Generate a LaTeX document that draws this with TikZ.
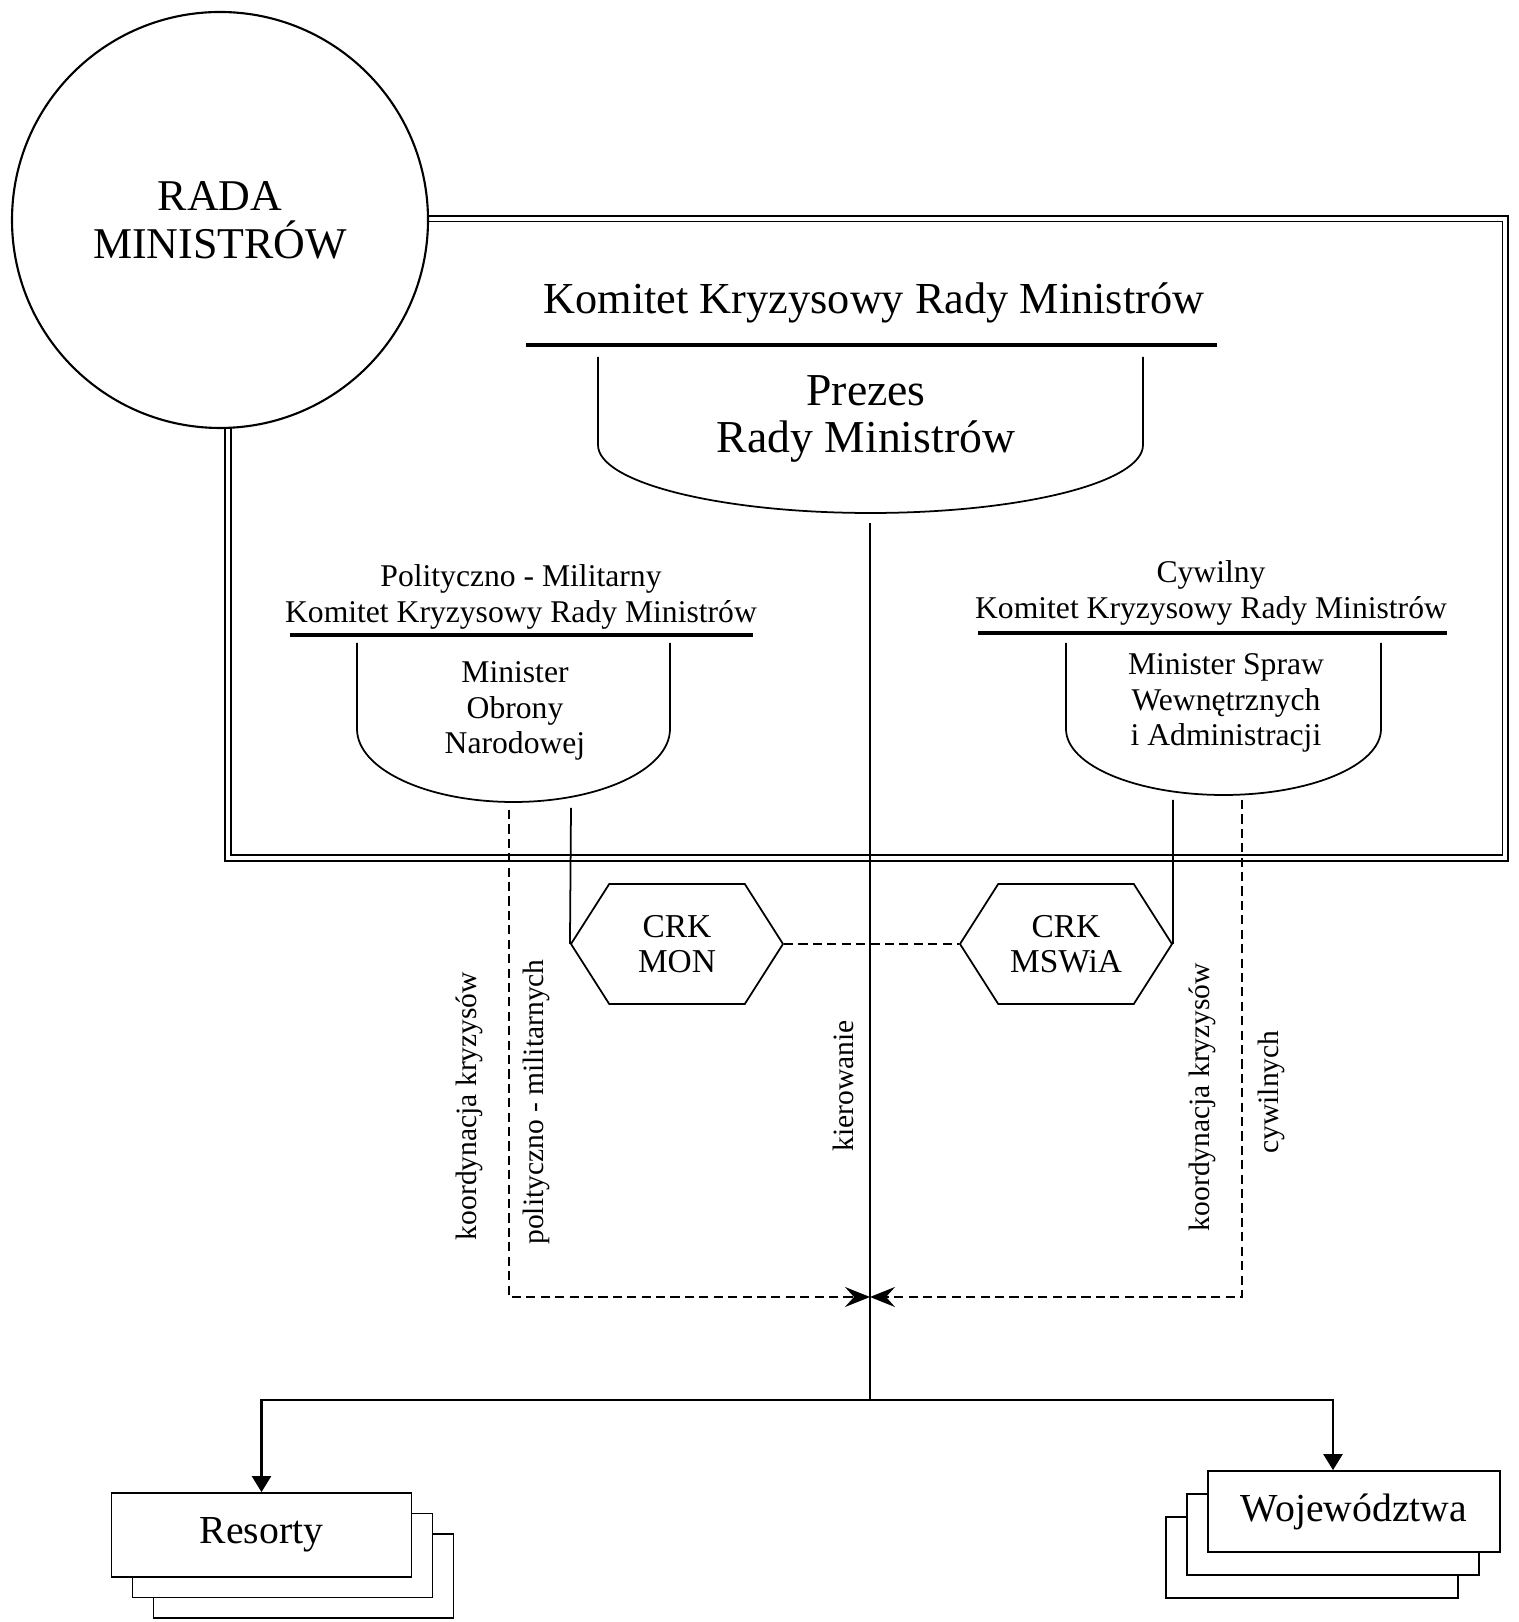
\documentclass[tikz,border=0pt]{standalone}
\usepackage{fontspec}
\setmainfont{Liberation Serif}
\usetikzlibrary{arrows.meta,shapes.symbols}
\tikzset{>=Stealth}
\tikzset{
  rule/.style = {line width=0.9pt},
  dashlink/.style = {dash pattern=on 2.6pt off 1.5pt},
  meet/.style = {-{Stealth[length=2.5mm,width=2mm,inset=0.9mm]}},
  drop/.style = {-{Triangle[length=1.6mm,width=1.9mm]}},
  hexa/.style = {draw, signal, signal to=east and west, signal pointer angle=115,
    minimum width=2.12cm, minimum height=1.2cm, inner sep=0pt, align=center,
    font=\fontsize{9.5}{10}\selectfont},
  sheet/.style = {draw, fill=white, inner sep=0pt, font=\fontsize{11.3}{13}\selectfont},
  resbox/.style = {sheet, minimum width=3cm, minimum height=0.84cm},
  wojbox/.style = {sheet, minimum width=2.92cm, minimum height=0.81cm},
  vlabel/.style = {rotate=90, font=\fontsize{8.4}{10}\selectfont}
}
% sides at #1 and #2, from #3 down to #4, elliptic bottom at #5
\newcommand{\bowl}[5]{%
  \draw (#1,#3) -- (#1,#4)
    arc[start angle=180, end angle=360, x radius={(#2-#1)/2}, y radius={#4-#5}]
    -- (#2,#3);
}

\begin{document}
\begin{tikzpicture}[line width=0.5pt]
  \useasboundingbox (0,0) rectangle (15.19,16.22);

  % frame of the crisis committee, partly under the circle
  \draw[double, double distance=0.9pt, line width=0.55pt] (2.28,7.64) rectangle (15.05,14.03);
  \node[draw, circle, fill=white, line width=0.6pt, minimum size=4.16cm, inner sep=0pt,
    align=center, font=\fontsize{12.5}{13.6}\selectfont] (rada) at (2.20,14.02) {RADA\\MINISTRÓW};

  % main committee
  \node[font=\fontsize{12.6}{13.6}\selectfont] (kkrm) at (8.74,13.19) {Komitet Kryzysowy Rady Ministrów};
  \draw[rule] (5.26,12.77) -- (12.17,12.77);
  \bowl{5.98}{11.43}{12.65}{11.77}{11.09}
  \node[align=center, font=\fontsize{13}{13.6}\selectfont] (prezes) at (8.66,12.03) {Prezes\\Rady Ministrów};

  % political-military committee
  \node[align=center, font=\fontsize{9}{10.2}\selectfont] (pmkkrm) at (5.21,10.25) {Polityczno - Militarny\\Komitet Kryzysowy Rady Ministrów};
  \draw[rule] (2.90,9.87) -- (7.53,9.87);
  \bowl{3.57}{6.70}{9.79}{8.93}{8.20}
  \node[align=center, font=\fontsize{9}{10}\selectfont] (mon) at (5.15,9.11) {Minister\\Obrony\\Narodowej};

  % civil committee
  \node[align=center, font=\fontsize{9}{10.2}\selectfont] (ckkrm) at (12.11,10.29) {Cywilny\\Komitet Kryzysowy Rady Ministrów};
  \draw[rule] (9.78,9.89) -- (14.47,9.89);
  \bowl{10.66}{13.81}{9.79}{8.93}{8.27}
  \node[align=center, font=\fontsize{9}{10}\selectfont] (mswia) at (12.26,9.19) {Minister Spraw\\Wewnętrznych\\i Administracji};

  % crisis response centres
  \node[hexa] (crkmon) at (6.77,6.78) {CRK\\MON};
  \node[hexa] (crkmswia) at (10.66,6.78) {CRK\\MSWiA};
  \draw[dashlink] (crkmon.east) -- (crkmswia.west);

  \coordinate (prezout) at (8.70,10.99);
  \coordinate (monout) at (5.71,8.14);
  \coordinate (monlink) at (5.09,8.12);
  \coordinate (mswiaout) at (11.73,8.22);
  \coordinate (mswialink) at (12.42,8.22);
  \coordinate (meetpt) at (8.70,3.25);
  \coordinate (fork) at (8.70,2.22);

  \draw (monout) -- (crkmon.west);
  \draw (mswiaout) -- (crkmswia.east);
  \draw (prezout) -- (fork);
  \draw[dashlink,meet] (monlink) |- (meetpt);
  \draw[dashlink,meet] (mswialink) |- (meetpt);

  \node[vlabel] (koordpm) at (4.69,5.16) {koordynacja kryzysów};
  \node[vlabel] (polmil) at (5.36,5.20) {polityczno - militarnych};
  \node[vlabel] (kier) at (8.43,5.36) {kierowanie};
  \node[vlabel] (koordc) at (12.02,5.25) {koordynacja kryzysów};
  \node[vlabel] (cywil) at (12.71,5.30) {cywilnych};

  % ministries and voivodeships
  \foreach \k in {2,1}
    \node[resbox] (res\k) at ({2.615+0.21*\k},{0.87-0.205*\k}) {};
  \node[resbox] (res) at (2.615,0.87) {Resorty};
  \foreach \k in {2,1}
    \node[wojbox] (woj\k) at ({13.54-0.21*\k},{1.105-0.23*\k}) {};
  \node[wojbox] (woj) at (13.54,1.105) {Województwa};

  \draw[drop, line width=0.7pt] (fork) -| (res.north);
  \draw[drop, line width=0.7pt] (fork) -| ([xshift=-0.21cm]woj.north);
\end{tikzpicture}
\end{document}
